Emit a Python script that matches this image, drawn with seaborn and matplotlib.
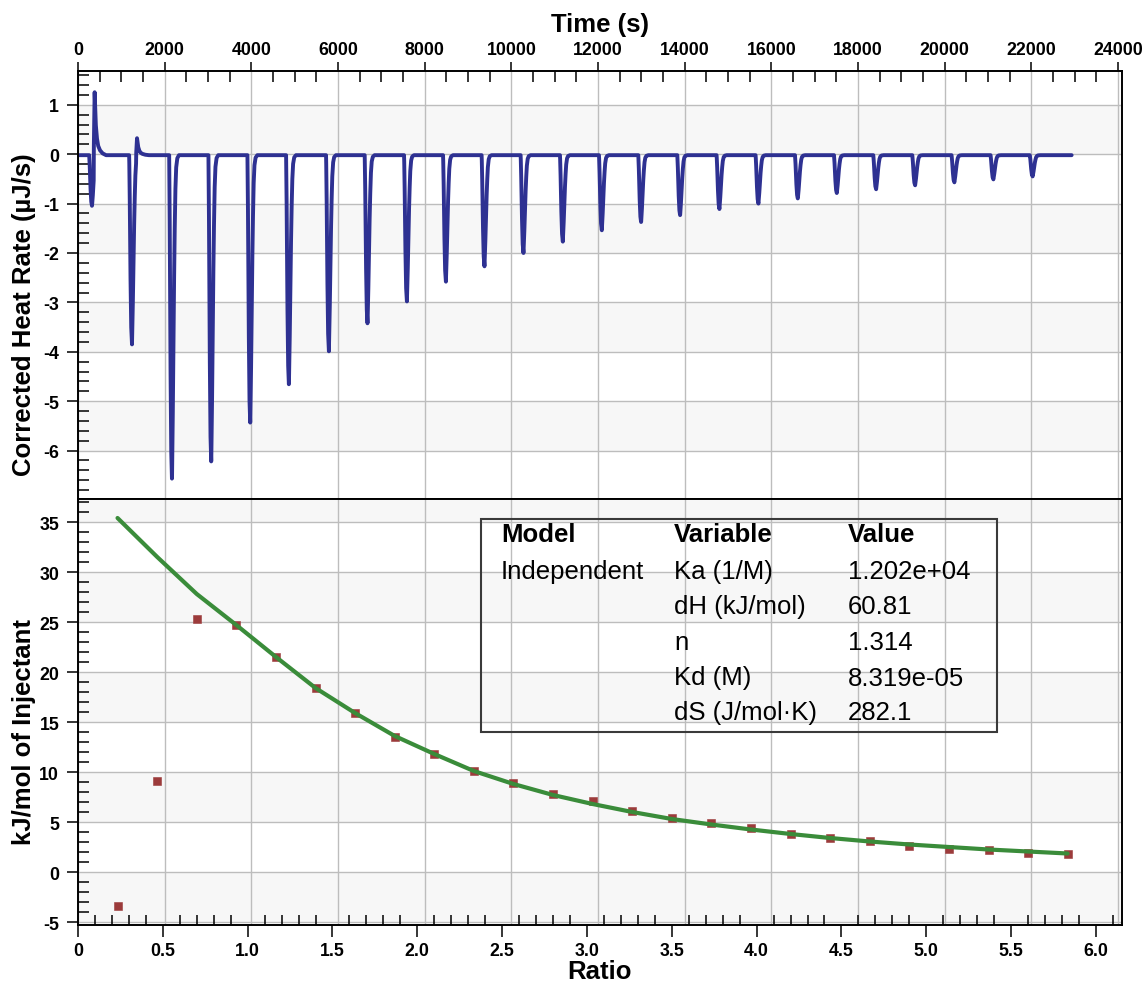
import numpy as np
import matplotlib
matplotlib.use("Agg")
import matplotlib.pyplot as plt
import seaborn as sns
from matplotlib.ticker import MultipleLocator, FuncFormatter
from matplotlib.patches import Rectangle

# ---------------- data ----------------
# Thermogram: injection times (s) at the minimum of each peak and the peak heat rate (uJ/s)
inj_time = [323, 1246, 2169, 3075, 3975, 4867, 5790, 6681, 7590, 8490,
            9380, 10280, 11188, 12088, 12995, 13895, 14802, 15702, 16611, 17511,
            18418, 19318, 20224, 21124, 22030]
inj_peak = [-1.05, -3.85, -6.60, -6.25, -5.46, -4.68, -3.99, -3.44, -2.98, -2.58,
            -2.27, -2.00, -1.77, -1.54, -1.38, -1.24, -1.11, -1.00, -0.90, -0.79,
            -0.71, -0.63, -0.57, -0.51, -0.45]
spike_time = [383, 1361]
spike_peak = [1.28, 0.33]
baseline = -0.02
trace_end = 22930

# Isotherm
ratio = [0.233, 0.467, 0.700, 0.933, 1.167, 1.400, 1.633, 1.867, 2.100, 2.333,
         2.567, 2.800, 3.033, 3.267, 3.500, 3.733, 3.967, 4.200, 4.433, 4.667,
         4.900, 5.133, 5.367, 5.600, 5.833]
heat = [-3.4, 9.1, 25.3, 24.7, 21.5, 18.4, 15.9, 13.5, 11.8, 10.1,
        8.9, 7.8, 7.1, 6.1, 5.4, 4.9, 4.4, 3.8, 3.4, 3.1,
        2.6, 2.3, 2.2, 1.9, 1.8]
fit = [35.4, 31.5, 27.8, 24.7, 21.5, 18.4, 15.9, 13.6, 11.8, 10.1,
       8.8, 7.7, 6.8, 6.0, 5.3, 4.75, 4.25, 3.8, 3.4, 3.05,
       2.75, 2.5, 2.25, 2.05, 1.85]

table_header = ["Model", "Variable", "Value"]
table_model = ["Independent"]
table_vars = ["Ka (1/M)", "dH (kJ/mol)", "n", "Kd (M)", "dS (J/mol\u00b7K)"]
table_vals = ["1.202e+04", "60.81", "1.314", "8.319e-05", "282.1"]

# peak shape templates (relative time, fraction of peak)
dip_dt = [-65, -55, -40, -20, 0, 15, 35, 55, 75, 95, 120, 160]
dip_fr = [0, 0.15, 0.55, 0.9, 1.0, 0.85, 0.55, 0.3, 0.12, 0.04, 0.01, 0]
spk_dt = [-20, -8, 0, 10, 25, 50, 80, 120, 180, 260]
spk_fr = [0, 0.6, 1.0, 0.8, 0.5, 0.28, 0.15, 0.08, 0.03, 0]

# ---------------- style ----------------
sns.set_style("white")
plt.rcParams['font.family'] = ['Liberation Sans', 'DejaVu Sans']
plt.rcParams['font.weight'] = 'bold'
plt.rcParams['axes.unicode_minus'] = False
plt.rcParams['text.color'] = 'black'
plt.rcParams['axes.labelcolor'] = 'black'
plt.rcParams['xtick.color'] = 'black'
plt.rcParams['ytick.color'] = 'black'

BLUE = '#2e3192'
GREEN = '#3a8c3a'
RED = '#9c3b3b'
BAND = '#f7f7f7'
GRID = '#bdbdbd'

W_PX, H_PX = 1148, 987
fig = plt.figure(figsize=(W_PX / 100, H_PX / 100), dpi=100)
L = 78 / W_PX
Wd = (1121.7 - 78) / W_PX
ax_t = fig.add_axes([L, 1 - 500 / H_PX, Wd, (500 - 71.7) / H_PX])
ax_bg = fig.add_axes([L, 1 - 926 / H_PX, Wd, (926 - 500) / H_PX])
ax_b = fig.add_axes([L, 1 - 926 / H_PX, Wd, (926 - 500) / H_PX])
ax_b.set_zorder(ax_bg.get_zorder() + 1)
ax_b.patch.set_visible(False)

TXMAX = 24085
T_YLIM = (-6.98, 1.69)
B_YLIM = (-5.3, 37.3)
B_XLIM = (0, 6.152)

# ---------------- thermogram ----------------
t = np.arange(0, trace_end + 1, 2.0)
y = np.full_like(t, baseline)
for ti, hi in zip(inj_time, inj_peak):
    y += (hi - baseline) * np.interp(t - ti, dip_dt, dip_fr, left=0, right=0)
for ts, sp in zip(spike_time, spike_peak):
    s = baseline + (sp - baseline) * np.interp(t - ts, spk_dt, spk_fr, left=0, right=0)
    m = (t - ts > spk_dt[0]) & (t - ts < spk_dt[-1])
    y[m] = np.maximum(y[m], s[m])

for lo, hi in [(0, 1), (-2, -1), (-4, -3), (-6, -5)]:
    ax_t.axhspan(lo, hi, color=BAND, zorder=0.2, lw=0)
sns.lineplot(x=t, y=y, ax=ax_t, color=BLUE, lw=2.8, estimator=None, sort=False, zorder=2)
ax_t.set_xlim(0, TXMAX)
ax_t.set_ylim(*T_YLIM)
ax_t.set_axisbelow(True)
ax_t.xaxis.set_major_locator(MultipleLocator(2000))
ax_t.xaxis.set_minor_locator(MultipleLocator(500))
ax_t.yaxis.set_major_locator(MultipleLocator(1))
ax_t.yaxis.set_minor_locator(MultipleLocator(0.2))
ax_t.grid(True, which='major', color=GRID, lw=1)
ax_t.xaxis.tick_top()
ax_t.xaxis.set_label_position('top')
ax_t.tick_params(axis='x', which='major', direction='out', length=6.7, width=1.1,
                 top=True, bottom=False, labeltop=True, labelbottom=False,
                 labelsize=12.8, pad=2.5, colors='black')
ax_t.tick_params(axis='x', which='minor', direction='in', length=8, width=1.1,
                 top=True, bottom=False)
ax_t.tick_params(axis='y', which='major', direction='out', length=8, width=1.1,
                 left=True, right=False, labelsize=12.8, pad=5.5, colors='black')
ax_t.tick_params(axis='y', which='minor', direction='in', length=8, width=1.1,
                 left=True, right=False)
ax_t.set_xlabel("Time (s)", fontsize=18.5, fontweight='bold', color='black')
ax_t.xaxis.set_label_coords(0.5, 1 + (71.7 - 25) / (500 - 71.7))
ax_t.xaxis.label.set_va('center')
ax_t.set_ylabel("Corrected Heat Rate (\u00b5J/s)", fontsize=18.5, fontweight='bold',
                va='center', color='black')
ax_t.yaxis.set_label_coords((24 - 78) / (1121.7 - 78), (500 - 315) / (500 - 71.7))
for sp in ax_t.spines.values():
    sp.set_visible(True)
    sp.set_color('black')
    sp.set_linewidth(1.4)

# ---------------- isotherm ----------------
for lo, hi in [(35, 40), (25, 30), (15, 20), (5, 10), (-5, 0)]:
    ax_bg.axhspan(lo, hi, color=BAND, zorder=0.2, lw=0)
ax_bg.set_xlim(0, TXMAX)
ax_bg.set_ylim(*B_YLIM)
ax_bg.set_axisbelow(True)
ax_bg.xaxis.set_major_locator(MultipleLocator(2000))
ax_bg.yaxis.set_major_locator(MultipleLocator(5))
ax_bg.grid(True, which='major', color=GRID, lw=1)
ax_bg.tick_params(which='both', length=0, labelbottom=False, labelleft=False,
                  bottom=False, left=False)
for sp in ax_bg.spines.values():
    sp.set_visible(False)

sns.scatterplot(x=ratio, y=heat, ax=ax_b, marker='s', s=36, color=RED,
                edgecolor=RED, linewidth=0.4, zorder=3)
sns.lineplot(x=ratio, y=fit, ax=ax_b, color=GREEN, lw=3, zorder=4, estimator=None, sort=False)
ax_b.set_xlim(*B_XLIM)
ax_b.set_ylim(*B_YLIM)
ax_b.xaxis.set_major_locator(MultipleLocator(0.5))
ax_b.xaxis.set_minor_locator(MultipleLocator(0.1))
ax_b.yaxis.set_major_locator(MultipleLocator(5))
ax_b.yaxis.set_minor_locator(MultipleLocator(1))
ax_b.xaxis.set_major_formatter(FuncFormatter(lambda v, _: "0" if abs(v) < 1e-9 else f"{v:.1f}"))
ax_b.grid(False)
ax_b.tick_params(axis='x', which='major', direction='out', length=8.6, width=1.1,
                 bottom=True, top=False, labelsize=12.8, pad=4, colors='black')
ax_b.tick_params(axis='x', which='minor', direction='in', length=7.5, width=1.1,
                 bottom=True, top=False)
ax_b.tick_params(axis='y', which='major', direction='out', length=8, width=1.1,
                 left=True, right=False, labelsize=12.8, pad=5.5, colors='black')
ax_b.tick_params(axis='y', which='minor', direction='in', length=8, width=1.1,
                 left=True, right=False)
ax_b.set_xlabel("Ratio", fontsize=18.5, fontweight='bold', va='center', color='black')
ax_b.xaxis.set_label_coords(0.5, -(971.7 - 926) / (926 - 500))
ax_b.set_ylabel("kJ/mol of Injectant", fontsize=18.5, fontweight='bold', va='center',
                color='black')
ax_b.yaxis.set_label_coords((24 - 78) / (1121.7 - 78), (926 - 732) / (926 - 500))
for sp in ax_b.spines.values():
    sp.set_visible(True)
    sp.set_color('black')
    sp.set_linewidth(1.4)

# ---------------- results table ----------------
def fx(px):
    return px / W_PX


def fy(py):
    return 1 - py / H_PX


rect = Rectangle((fx(481), fy(733)), fx(997) - fx(481), fy(520) - fy(733),
                 transform=fig.transFigure, fill=False, edgecolor='#3a3a3a', lw=1.5, zorder=10)
fig.add_artist(rect)
col_x = [501, 674, 848]
row_y = [535.5, 571.7, 606.9, 643.3, 678.5, 713.5]
for cx, txt in zip(col_x, table_header):
    fig.text(fx(cx), fy(row_y[0]), txt, fontsize=18.5, fontweight='bold', color='black',
             ha='left', va='center', zorder=11)
fig.text(fx(col_x[0]), fy(row_y[1]), table_model[0], fontsize=18.5, fontweight='normal',
         color='black', ha='left', va='center', zorder=11)
for i, (vn, vv) in enumerate(zip(table_vars, table_vals)):
    fig.text(fx(col_x[1]), fy(row_y[i + 1]), vn, fontsize=18.5, fontweight='normal',
             color='black', ha='left', va='center', zorder=11)
    fig.text(fx(col_x[2]), fy(row_y[i + 1]), vv, fontsize=18.5, fontweight='normal',
             color='black', ha='left', va='center', zorder=11)

fig.savefig("out.png", dpi=100)
